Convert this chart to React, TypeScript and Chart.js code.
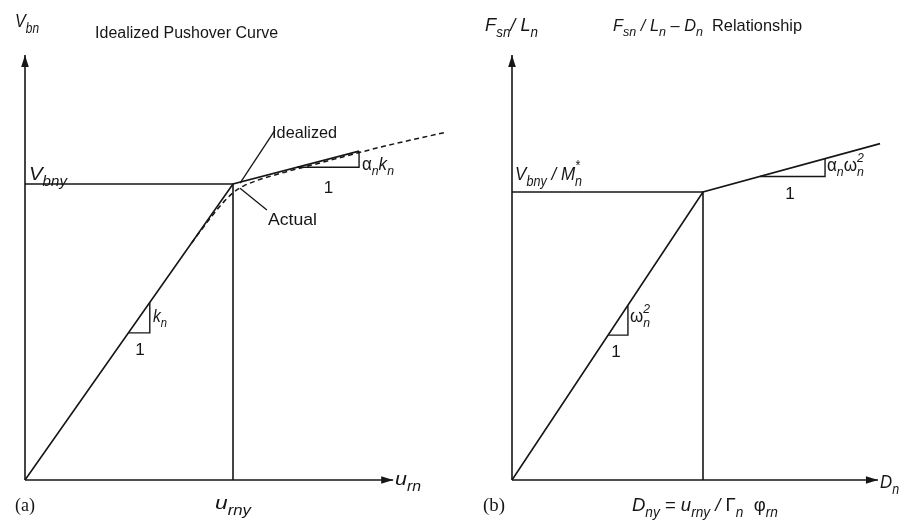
import React, { useEffect, useRef } from "react";
import { Chart, registerables } from "chart.js";

Chart.register(...registerables);

type Pt = { x: number; y: number };

// ---------- Panel (a): idealized pushover curve (units: u_rny, V_bny) ----------
const pushoverIdealX = [0, 1, 1.606];
const pushoverIdealY = [0, 1, 1.111];
const pushoverActualX = [0.8, 0.9, 0.96, 1.0, 1.05, 1.12, 1.25, 1.45, 1.7, 2.03];
const pushoverActualY = [0.8, 0.893, 0.943, 0.97, 0.993, 1.013, 1.04, 1.077, 1.123, 1.176];
const pushoverYield: Pt = { x: 1, y: 1 };
const pushoverAxisEnd: Pt = { x: 1.77, y: 1.436 };
const pushoverElasticTri = [0.497, 0.6];
const pushoverPostTri = [1.308, 1.606];

// ---------- Panel (b): F_sn/L_n - D_n relationship (units: D_ny, V_bny/M_n*) ----------
const sdofX = [0, 1, 1.927];
const sdofY = [0, 1, 1.168];
const sdofYield: Pt = { x: 1, y: 1 };
const sdofAxisEnd: Pt = { x: 1.916, y: 1.476 };
const sdofElasticTri = [0.503, 0.607];
const sdofPostTri = [1.298, 1.639];

const INK = "#161616";
const SANS = '"Liberation Sans", Arial, Helvetica, sans-serif';
const SERIF = '"Liberation Serif", "Times New Roman", serif';

const zip = (xs: number[], ys: number[]): Pt[] => xs.map((x, i) => ({ x, y: ys[i] }));

function interp(xs: number[], ys: number[], x: number): number {
  for (let i = 1; i < xs.length; i++) {
    if (x <= xs[i]) {
      const t = (x - xs[i - 1]) / (xs[i] - xs[i - 1]);
      return ys[i - 1] + t * (ys[i] - ys[i - 1]);
    }
  }
  return ys[ys.length - 1];
}

// slope triangle sitting under a polyline between x0 and x1
function slopeTriangle(xs: number[], ys: number[], range: number[]): Pt[] {
  const [x0, x1] = range;
  const y0 = interp(xs, ys, x0);
  const y1 = interp(xs, ys, x1);
  return [
    { x: x0, y: y0 },
    { x: x1, y: y0 },
    { x: x1, y: y1 },
  ];
}

function solid(data: Pt[], width = 1.6) {
  return {
    data,
    borderColor: INK,
    borderWidth: width,
    pointRadius: 0,
    showLine: true,
    fill: false,
    tension: 0,
    clip: false as const,
  };
}

// ---------- rich text (subscripts / superscripts) ----------
type Seg = [string, string]; // kinds: i italic, r roman, s subscript, u superscript, b stacked "sub|sup"
interface Label {
  segs: Seg[];
  x: number;
  y: number;
  size: number;
  w?: number;
  align?: "left" | "center";
  serif?: boolean;
}

function fontFor(kind: string, size: number, serif?: boolean) {
  const fam = serif ? SERIF : SANS;
  const small = Math.round(size * 0.74);
  if (kind === "i") return `italic ${size}px ${fam}`;
  if (kind === "r") return `${size}px ${fam}`;
  return `italic ${small}px ${fam}`;
}

function segWidth(ctx: CanvasRenderingContext2D, seg: Seg, size: number, serif?: boolean) {
  ctx.font = fontFor(seg[1], size, serif);
  if (seg[1] === "b") {
    const [a, b] = seg[0].split("|");
    return Math.max(ctx.measureText(a).width, ctx.measureText(b).width);
  }
  return ctx.measureText(seg[0]).width;
}

function drawRich(ctx: CanvasRenderingContext2D, lab: Label, px: number, py: number) {
  const widths = lab.segs.map((s) => segWidth(ctx, s, lab.size, lab.serif));
  const natural = widths.reduce((a, b) => a + b, 0);
  const target = lab.w ?? natural;
  const sx = target / natural;
  const startX = lab.align === "center" ? px - target / 2 : px;
  ctx.save();
  ctx.translate(startX, py);
  ctx.scale(sx, 1);
  ctx.fillStyle = INK;
  ctx.textBaseline = "alphabetic";
  ctx.textAlign = "left";
  let cx = 0;
  lab.segs.forEach((s, i) => {
    ctx.font = fontFor(s[1], lab.size, lab.serif);
    const k = s[1];
    if (k === "s") ctx.fillText(s[0], cx, lab.size * 0.3);
    else if (k === "u") ctx.fillText(s[0], cx, -lab.size * 0.48);
    else if (k === "b") {
      const [a, b] = s[0].split("|");
      ctx.fillText(a, cx, lab.size * 0.3);
      ctx.fillText(b, cx, -lab.size * 0.5);
    } else ctx.fillText(s[0], cx, 0);
    cx += widths[i];
  });
  ctx.restore();
}

// ---------- panel specs ----------
interface Panel {
  left: number;
  width: number;
  height: number;
  originX: number;
  originY: number;
  unitX: number;
  unitY: number;
  xMax: number;
  yMax: number;
  datasets: any[];
  axisEnd: Pt;
  leaders: [Pt, Pt][];
  labels: Label[];
}

const panelA: Panel = {
  left: 0,
  width: 470,
  height: 529,
  originX: 25,
  originY: 480,
  unitX: 208,
  unitY: 296,
  xMax: 2.1,
  yMax: 1.5,
  axisEnd: pushoverAxisEnd,
  datasets: [
    solid([{ x: 0, y: 0 }, { x: pushoverAxisEnd.x, y: 0 }]),
    solid([{ x: 0, y: 0 }, { x: 0, y: pushoverAxisEnd.y }]),
    solid([{ x: 0, y: pushoverYield.y }, pushoverYield]),
    solid([{ x: pushoverYield.x, y: 0 }, pushoverYield]),
    solid(zip(pushoverIdealX, pushoverIdealY)),
    solid(slopeTriangle(pushoverIdealX, pushoverIdealY, pushoverElasticTri), 1.4),
    solid(slopeTriangle(pushoverIdealX, pushoverIdealY, pushoverPostTri), 1.4),
    {
      ...solid(zip(pushoverActualX, pushoverActualY), 1.5),
      borderDash: [5, 3.5],
      cubicInterpolationMode: "monotone",
    },
  ],
  leaders: [
    [{ x: 1.202, y: 1.182 }, { x: 1.034, y: 1.003 }],
    [{ x: 1.163, y: 0.912 }, { x: 1.034, y: 0.986 }],
  ],
  labels: [
    { segs: [["V", "i"], ["bn", "s"]], x: -0.048, y: 1.53, size: 19, w: 24 },
    { segs: [["Idealized Pushover Curve", "r"]], x: 0.337, y: 1.493, size: 16, w: 183 },
    { segs: [["V", "i"], ["bny", "s"]], x: 0.019, y: 1.014, size: 19, w: 38 },
    { segs: [["Idealized", "r"]], x: 1.188, y: 1.155, size: 16.5, w: 65 },
    { segs: [["Actual", "r"]], x: 1.168, y: 0.861, size: 17, w: 49 },
    { segs: [["α", "r"], ["n", "s"], ["k", "i"], ["n", "s"]], x: 1.62, y: 1.047, size: 18, w: 32 },
    { segs: [["1", "r"]], x: 1.459, y: 0.97, size: 17, align: "center" },
    { segs: [["k", "i"], ["n", "s"]], x: 0.615, y: 0.534, size: 18, w: 14 },
    { segs: [["1", "r"]], x: 0.553, y: 0.422, size: 17, align: "center" },
    { segs: [["u", "i"], ["rn", "s"]], x: 1.779, y: -0.017, size: 19, w: 26 },
    { segs: [["(a)", "r"]], x: -0.048, y: -0.105, size: 18, w: 20, serif: true },
    { segs: [["u", "i"], ["rny", "s"]], x: 1.0, y: -0.098, size: 19, w: 36, align: "center" },
  ],
};

const panelB: Panel = {
  left: 450,
  width: 450,
  height: 529,
  originX: 62,
  originY: 480,
  unitX: 191,
  unitY: 288,
  xMax: 2.0,
  yMax: 1.5,
  axisEnd: sdofAxisEnd,
  datasets: [
    solid([{ x: 0, y: 0 }, { x: sdofAxisEnd.x, y: 0 }]),
    solid([{ x: 0, y: 0 }, { x: 0, y: sdofAxisEnd.y }]),
    solid([{ x: 0, y: sdofYield.y }, sdofYield]),
    solid([{ x: sdofYield.x, y: 0 }, sdofYield]),
    solid(zip(sdofX, sdofY)),
    solid(slopeTriangle(sdofX, sdofY, sdofElasticTri), 1.4),
    solid(slopeTriangle(sdofX, sdofY, sdofPostTri), 1.4),
  ],
  leaders: [],
  labels: [
    { segs: [["F", "i"], ["sn", "s"], ["/ ", "i"], ["L", "i"], ["n", "s"]], x: -0.141, y: 1.559, size: 19, w: 53 },
    {
      segs: [
        ["F", "i"], ["sn", "s"], [" / ", "i"], ["L", "i"], ["n", "s"], [" – ", "r"], ["D", "i"], ["n", "s"],
        ["  Relationship", "r"],
      ],
      x: 0.529, y: 1.559, size: 17, w: 189,
    },
    { segs: [["V", "i"], ["bny", "s"], [" / ", "i"], ["M", "i"], ["n|*", "b"]], x: 0.016, y: 1.042, size: 19, w: 67 },
    { segs: [["α", "r"], ["n", "s"], ["ω", "r"], ["n|2", "b"]], x: 1.649, y: 1.073, size: 18, w: 37 },
    { segs: [["1", "r"]], x: 1.455, y: 0.976, size: 17, align: "center" },
    { segs: [["ω", "r"], ["n|2", "b"]], x: 0.618, y: 0.549, size: 18, w: 20 },
    { segs: [["1", "r"]], x: 0.545, y: 0.427, size: 17, align: "center" },
    { segs: [["D", "i"], ["n", "s"]], x: 1.927, y: -0.028, size: 19, w: 19 },
    { segs: [["(b)", "r"]], x: -0.152, y: -0.108, size: 18, w: 22, serif: true },
    {
      segs: [
        ["D", "i"], ["ny", "s"], [" = ", "r"], ["u", "i"], ["rny", "s"], [" / ", "i"], ["Γ", "r"], ["n", "s"],
        ["  ", "r"], ["φ", "r"], ["rn", "s"],
      ],
      x: 1.01, y: -0.108, size: 19, w: 146, align: "center",
    },
  ],
};

function arrowHead(ctx: CanvasRenderingContext2D, x: number, y: number, dir: "up" | "right") {
  const len = 12;
  const half = 3.8;
  ctx.beginPath();
  if (dir === "right") {
    ctx.moveTo(x, y);
    ctx.lineTo(x - len, y - half);
    ctx.lineTo(x - len, y + half);
  } else {
    ctx.moveTo(x, y);
    ctx.lineTo(x - half, y + len);
    ctx.lineTo(x + half, y + len);
  }
  ctx.closePath();
  ctx.fill();
}

const annotate = {
  id: "annotate",
  afterDatasetsDraw(chart: any, _args: any, opts: any) {
    const panel: Panel = opts.panel;
    const ctx: CanvasRenderingContext2D = chart.ctx;
    const xs = chart.scales.x;
    const ys = chart.scales.y;
    const px = (v: number) => xs.getPixelForValue(v);
    const py = (v: number) => ys.getPixelForValue(v);
    ctx.save();
    ctx.fillStyle = INK;
    ctx.strokeStyle = INK;
    arrowHead(ctx, px(panel.axisEnd.x), py(0), "right");
    arrowHead(ctx, px(0), py(panel.axisEnd.y), "up");
    ctx.lineWidth = 1.3;
    panel.leaders.forEach(([a, b]) => {
      ctx.beginPath();
      ctx.moveTo(px(a.x), py(a.y));
      ctx.lineTo(px(b.x), py(b.y));
      ctx.stroke();
    });
    panel.labels.forEach((lab) => drawRich(ctx, lab, px(lab.x), py(lab.y)));
    ctx.restore();
  },
};

function PanelChart({ panel }: { panel: Panel }) {
  const ref = useRef<HTMLCanvasElement | null>(null);
  useEffect(() => {
    if (!ref.current) return;
    const chart = new Chart(ref.current, {
      type: "line",
      data: { datasets: panel.datasets },
      options: {
        animation: false,
        responsive: false,
        events: [],
        layout: {
          padding: {
            left: panel.originX,
            top: panel.originY - panel.yMax * panel.unitY,
            right: panel.width - panel.originX - panel.xMax * panel.unitX,
            bottom: panel.height - panel.originY,
          },
        },
        scales: {
          x: { type: "linear", min: 0, max: panel.xMax, display: false },
          y: { type: "linear", min: 0, max: panel.yMax, display: false },
        },
        plugins: {
          legend: { display: false },
          tooltip: { enabled: false },
          annotate: { panel },
        } as any,
      },
      plugins: [annotate],
    });
    return () => chart.destroy();
  }, [panel]);
  return (
    <canvas
      ref={ref}
      width={panel.width}
      height={panel.height}
      style={{ position: "absolute", left: panel.left, top: 0, width: panel.width, height: panel.height }}
    />
  );
}

export default function App() {
  return (
    <div
      style={{
        position: "fixed",
        left: 0,
        top: 0,
        width: 900,
        height: 529,
        background: "#ffffff",
        overflow: "hidden",
      }}
    >
      <PanelChart panel={panelA} />
      <PanelChart panel={panelB} />
    </div>
  );
}
